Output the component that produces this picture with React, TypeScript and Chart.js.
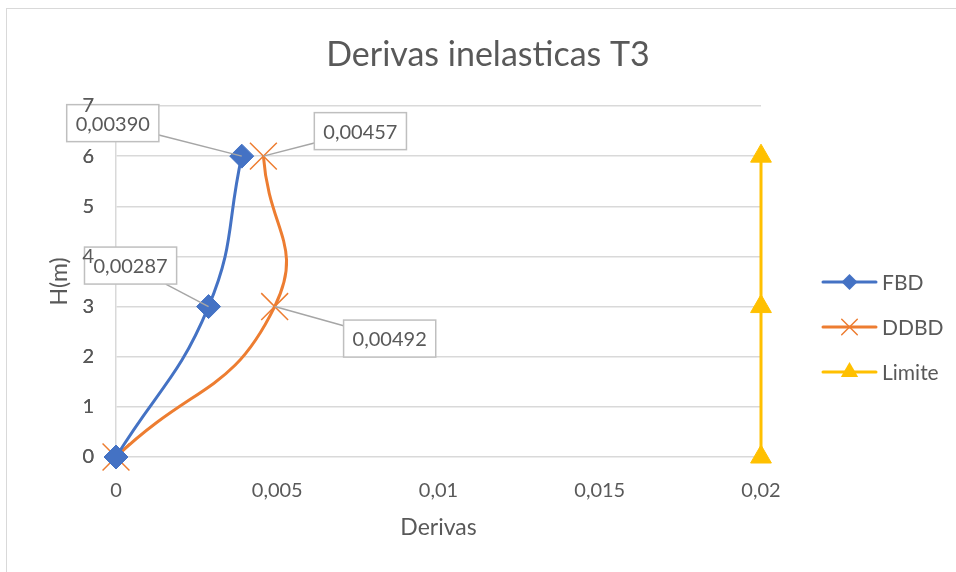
import React, { useEffect, useRef } from "react";
import { Chart, registerables } from "chart.js";

Chart.register(...registerables);

const chartTitle = "Derivas inelasticas T3";
const xAxisTitle = "Derivas";
const yAxisTitle = "H(m)";
const heights = [0, 3, 6];
const fbdValues = [0, 0.00287, 0.0039];
const ddbdValues = [0, 0.00492, 0.00457];
const limiteValues = [0.02, 0.02, 0.02];
const xTickLabels = ["0", "0,005", "0,01", "0,015", "0,02"];
const seriesNames = ["FBD", "DDBD", "Limite"];
const seriesColors = ["#4472C4", "#ED7D31", "#FFC000"];

// data labels: [datasetIndex, pointIndex, box offset dx, dy]
const labelSpecs: [number, number, number, number][] = [
  [0, 2, -129, -33],
  [1, 2, 97, -25],
  [0, 1, -78, -41],
  [1, 1, 115, 32],
];

const FONT = "Lato, 'Open Sans', sans-serif";
const TEXT = "#595959";

function fmt(v: number) {
  return v.toFixed(5).replace(".", ",");
}

function drawMarker(ctx: CanvasRenderingContext2D, style: string, x: number, y: number, r: number, color: string) {
  ctx.save();
  ctx.fillStyle = color;
  ctx.strokeStyle = color;
  ctx.beginPath();
  if (style === "rectRot") {
    ctx.moveTo(x, y - r);
    ctx.lineTo(x + r, y);
    ctx.lineTo(x, y + r);
    ctx.lineTo(x - r, y);
    ctx.closePath();
    ctx.fill();
  } else if (style === "crossRot") {
    const d = r * Math.SQRT1_2;
    ctx.lineWidth = 1.5;
    ctx.moveTo(x - d, y - d);
    ctx.lineTo(x + d, y + d);
    ctx.moveTo(x + d, y - d);
    ctx.lineTo(x - d, y + d);
    ctx.stroke();
  } else if (style === "triangle") {
    ctx.moveTo(x, y - r);
    ctx.lineTo(x + r * 0.866, y + r * 0.5);
    ctx.lineTo(x - r * 0.866, y + r * 0.5);
    ctx.closePath();
    ctx.fill();
  }
  ctx.restore();
}

const overlayPlugin = {
  id: "overlay",
  afterDatasetsDraw(chart: any) {
    const ctx: CanvasRenderingContext2D = chart.ctx;
    // data labels
    ctx.save();
    ctx.font = `20px ${FONT}`;
    for (const [di, pi, dx, dy] of labelSpecs) {
      const el = chart.getDatasetMeta(di).data[pi];
      const px = el.x;
      const py = el.y;
      const value = chart.data.datasets[di].data[pi].x;
      const text = fmt(value);
      const w = ctx.measureText(text).width + 18;
      const h = 37;
      const cx = px + dx;
      const cy = py + dy;
      const vx = px - cx;
      const vy = py - cy;
      const t = Math.min(Math.abs((w / 2) / vx || Infinity), Math.abs((h / 2) / vy || Infinity));
      const sx = cx + vx * t;
      const sy = cy + vy * t;
      ctx.strokeStyle = "#a6a6a6";
      ctx.lineWidth = 1.5;
      ctx.beginPath();
      ctx.moveTo(sx, sy);
      ctx.lineTo(px, py);
      ctx.stroke();
      ctx.fillStyle = "#ffffff";
      ctx.fillRect(cx - w / 2, cy - h / 2, w, h);
      ctx.strokeStyle = "#bfbfbf";
      ctx.lineWidth = 1.5;
      ctx.strokeRect(cx - w / 2, cy - h / 2, w, h);
      ctx.fillStyle = TEXT;
      ctx.textAlign = "center";
      ctx.textBaseline = "middle";
      ctx.fillText(text, cx, cy + 1);
    }
    ctx.restore();
  },
  afterDraw(chart: any) {
    const ctx: CanvasRenderingContext2D = chart.ctx;
    // y tick labels sit on top of the data label boxes, as in the reference
    chart.scales.y.drawLabels(chart.chartArea);
    ctx.save();
    ctx.fillStyle = TEXT;
    ctx.font = `34px ${FONT}`;
    ctx.textAlign = "center";
    ctx.textBaseline = "middle";
    ctx.fillText(chartTitle, 488, 55);
    const styles = ["rectRot", "crossRot", "triangle"];
    const sizes = [8, 11, 10];
    ctx.font = `21px ${FONT}`;
    ctx.textAlign = "left";
    seriesNames.forEach((name, i) => {
      const y = 282 + i * 45;
      ctx.strokeStyle = seriesColors[i];
      ctx.lineWidth = 3;
      ctx.lineCap = "round";
      ctx.beginPath();
      ctx.moveTo(823, y);
      ctx.lineTo(876, y);
      ctx.stroke();
      drawMarker(ctx, styles[i], 849.5, y, sizes[i], seriesColors[i]);
      ctx.fillStyle = TEXT;
      ctx.fillText(name, 882, y + 1);
    });
    ctx.restore();
  },
};

export default function App() {
  const ref = useRef<HTMLCanvasElement | null>(null);
  useEffect(() => {
    document.body.style.margin = "0";
    document.body.style.overflow = "hidden";
    const canvas = ref.current!;
    const mk = (vals: number[]) => vals.map((v, i) => ({ x: v, y: heights[i] }));
    const chart = new Chart(canvas, {
      type: "scatter",
      data: {
        datasets: [
          {
            label: seriesNames[0],
            data: mk(fbdValues),
            showLine: true,
            borderColor: seriesColors[0],
            backgroundColor: seriesColors[0],
            borderWidth: 3,
            tension: 0.45,
            pointStyle: "rectRot",
            pointRadius: 12,
            pointBorderWidth: 1,
            clip: false,
          },
          {
            label: seriesNames[1],
            data: mk(ddbdValues),
            showLine: true,
            borderColor: seriesColors[1],
            backgroundColor: seriesColors[1],
            borderWidth: 3,
            tension: 0.5,
            pointStyle: "crossRot",
            pointRadius: 19,
            pointBorderWidth: 1.5,
            clip: false,
          },
          {
            label: seriesNames[2],
            data: mk(limiteValues),
            showLine: true,
            borderColor: seriesColors[2],
            backgroundColor: seriesColors[2],
            borderWidth: 3,
            tension: 0,
            pointStyle: "triangle",
            pointRadius: 12,
            pointBorderWidth: 1,
            clip: false,
          },
        ] as any,
      },
      options: {
        responsive: false,
        animation: false,
        devicePixelRatio: 1,
        layout: { padding: { left: 42, right: 195, top: 106, bottom: 27 } },
        plugins: {
          legend: { display: false },
          title: { display: false },
          tooltip: { enabled: false },
        },
        scales: {
          x: {
            type: "linear",
            min: 0,
            max: 0.02,
            afterFit: (s: any) => {
              s.height = 88;
            },
            afterBuildTicks: (s: any) => {
              s.ticks = xTickLabels.map((_, i) => ({ value: i * 0.005 }));
            },
            ticks: {
              color: TEXT,
              padding: 22,
              font: { family: FONT, size: 20 },
              maxRotation: 0,
              autoSkip: false,
              callback: (_v: any, i: number) => xTickLabels[i],
            },
            grid: { display: false, drawTicks: false },
            border: { display: false },
            title: {
              display: true,
              text: xAxisTitle,
              color: TEXT,
              font: { family: FONT, size: 23 },
              padding: { top: 4, bottom: 4 },
            },
          },
          y: {
            type: "linear",
            min: 0,
            max: 7,
            afterFit: (s: any) => {
              s.width = 74;
            },
            ticks: {
              stepSize: 1,
              color: TEXT,
              padding: 22,
              font: { family: FONT, size: 20 },
            },
            grid: { color: "#d9d9d9", lineWidth: 1.5, drawTicks: false },
            border: { display: true, color: "#d9d9d9", width: 1.5 },
            title: {
              display: true,
              text: yAxisTitle,
              color: TEXT,
              font: { family: FONT, size: 23 },
              padding: { top: 4, bottom: 4 },
            },
          },
        },
      },
      plugins: [overlayPlugin],
    } as any);
    return () => chart.destroy();
  }, []);
  return (
    <div style={{ position: "absolute", left: 0, top: 0, width: 956, height: 572, overflow: "hidden", background: "#fff" }}>
      <div
        style={{
          position: "absolute",
          left: 6,
          top: 8,
          width: 1000,
          height: 1000,
          border: "1.5px solid #d9d9d9",
          boxSizing: "border-box",
        }}
      />
      <canvas ref={ref} width={956} height={572} style={{ position: "absolute", left: 0, top: 0, width: 956, height: 572 }} />
    </div>
  );
}
